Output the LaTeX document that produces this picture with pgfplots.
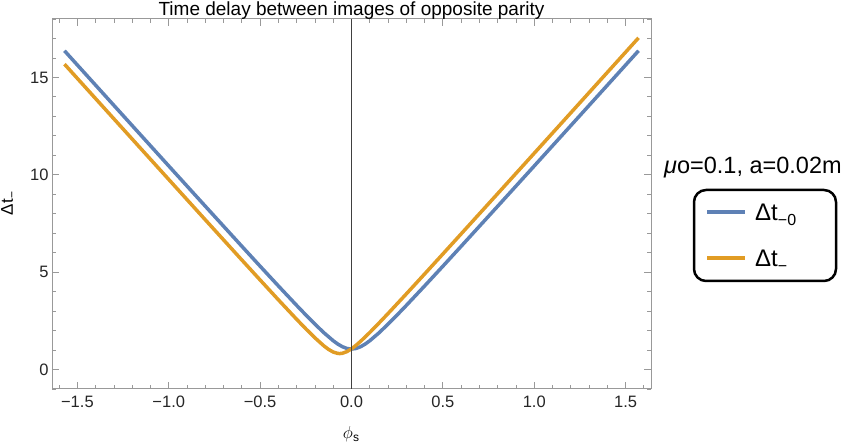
\documentclass[border=0pt]{standalone}
\usepackage{fontspec}
\setmainfont{Liberation Sans}
\usepackage{pgfplots}
\pgfplotsset{compat=1.18}
\definecolor{mblue}{rgb}{0.368417,0.506779,0.709798}
\definecolor{morange}{rgb}{0.880722,0.611041,0.142051}
\definecolor{framegray}{gray}{0.6}

\begin{document}
\begin{tikzpicture}[x=1pt,y=1pt]
\path[use as bounding box] (0,0) rectangle (843,444);
\begin{axis}[
    at={(52pt,55pt)}, anchor=south west,
    scale only axis, width=599pt, height=370pt,
    xmin=-1.639, xmax=1.639, ymin=-1, ymax=18,
    xtick={-1.5,-1,-0.5,0,0.5,1,1.5},
    xticklabels={−1.5,−1.0,−0.5,0.0,0.5,1.0,1.5},
    minor xtick={-1.6,-1.5,...,1.61},
    ytick={0,5,10,15}, yticklabels={0,5,10,15},
    minor ytick={-1,0,...,18},
    tick align=inside,
    major tick length=7pt, minor tick length=4pt,
    axis line style={framegray, line width=1pt},
    every tick/.style={framegray, line width=0.8pt},
    tick label style={font=\fontsize{16.5}{18}\selectfont, text=black!85},
    xticklabel style={yshift=-3.5pt},
]
% Delta t_{-0}
\addplot[mblue, line width=3.5pt] coordinates {
    (-1.5708,16.370) (-1.4,14.598) (-1.2,12.524) (-1.0,10.453) (-0.8,8.386)
    (-0.6,6.328) (-0.5,5.305) (-0.4,4.291) (-0.3,3.292) (-0.25,2.804)
    (-0.2,2.330) (-0.15,1.880) (-0.1,1.478) (-0.075,1.308) (-0.05,1.172)
    (-0.025,1.082) (0,1.050) (0.025,1.082) (0.05,1.172) (0.075,1.308)
    (0.1,1.478) (0.15,1.880) (0.2,2.330) (0.25,2.804) (0.3,3.292)
    (0.4,4.291) (0.5,5.305) (0.6,6.328) (0.8,8.386) (1.0,10.453)
    (1.2,12.524) (1.4,14.598) (1.5708,16.370)
};
% Delta t_{-}
\addplot[morange, line width=3.5pt] coordinates {
    (-1.5708,15.682) (-1.4,13.908) (-1.2,11.833) (-1.0,9.759) (-0.8,7.688)
    (-0.6,5.624) (-0.5,4.598) (-0.4,3.579) (-0.3,2.578) (-0.25,2.091)
    (-0.2,1.626) (-0.15,1.206) (-0.125,1.030) (-0.1,0.897) (-0.075,0.827)
    (-0.065,0.820) (-0.05,0.835) (-0.025,0.920) (0,1.063) (0.025,1.244)
    (0.05,1.450) (0.1,1.902) (0.15,2.382) (0.2,2.875) (0.3,3.883)
    (0.4,4.905) (0.5,5.933) (0.6,6.965) (0.8,9.033) (1.0,11.106)
    (1.2,13.181) (1.4,15.258) (1.5708,17.032)
};
\addplot[black!75, line width=0.9pt, forget plot] coordinates {(0,-1) (0,18)};
\end{axis}
% title and axis labels
\node[anchor=base, font=\fontsize{19}{21}\selectfont] at (351.5,428.5)
    {Time delay between images of opposite parity};
\node[rotate=90, font=\fontsize{17}{19}\selectfont] at (8.5,240.5)
    {Δt\raisebox{-0.35ex}{\fontsize{12}{12}\selectfont −}};
\node[font=\fontsize{17}{19}\selectfont] at (351,10)
    {$\phi$\raisebox{-0.4ex}{\fontsize{12}{12}\selectfont s}};
% legend
\node[anchor=base west, inner sep=0pt, font=\fontsize{23.5}{25}\selectfont] at (664,270.5)
    {\textit{μ}o=0.1, a=0.02m};
\draw[line width=2.5pt, rounded corners=12pt] (694,163) rectangle (836,254);
\draw[mblue, line width=3.5pt] (707,232) -- (745,232);
\draw[morange, line width=3.5pt] (707,186) -- (745,186);
\node[anchor=base west, inner sep=0pt, font=\fontsize{24}{26}\selectfont] at (755,223.5)
    {Δt\raisebox{-0.4ex}{\fontsize{16}{16}\selectfont −0}};
\node[anchor=base west, inner sep=0pt, font=\fontsize{24}{26}\selectfont] at (755,177.5)
    {Δt\raisebox{-0.4ex}{\fontsize{16}{16}\selectfont −}};
\end{tikzpicture}
\end{document}
